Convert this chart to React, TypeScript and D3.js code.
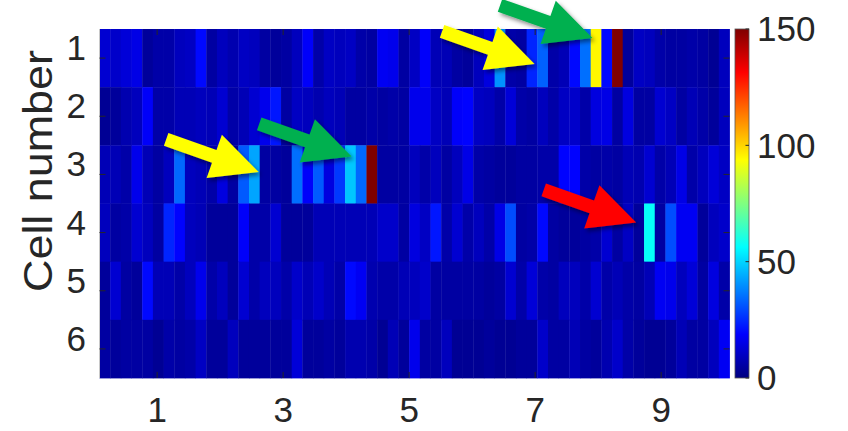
import React from "react";
import * as d3 from "d3";

// Spike counts per time bin for each recorded cell (59 bins, ~0.17 s each)
const cellIds = [1, 2, 3, 4, 5, 6];
const binStart = 0.085;
const binWidth = 10 / 59;

const cell1 = [12, 11, 13, 15, 4, 6, 6, 9, 10, 20, 5, 9, 7, 10, 9, 5, 4, 5, 9, 18, 6, 10, 9, 10, 6, 5, 17, 16, 5, 10,
  18, 8, 8, 5, 4, 9, 14, 40, 6, 5, 24, 33, 6, 8, 20, 35, 95, 20, 150, 4, 10, 9, 6, 5, 5, 6, 5, 3, 9];
const cell2 = [3, 4, 7, 9, 18, 6, 6, 8, 8, 9, 8, 12, 6, 8, 12, 16, 22, 5, 10, 9, 7, 9, 8, 5, 5, 6, 5, 6, 5, 16,
  16, 10, 8, 18, 19, 10, 9, 6, 13, 6, 5, 9, 6, 10, 11, 6, 14, 15, 5, 14, 5, 5, 12, 10, 5, 8, 6, 4, 9];
const cell3 = [8, 8, 6, 16, 8, 5, 9, 34, 9, 8, 6, 14, 5, 32, 43, 5, 5, 4, 35, 18, 32, 14, 27, 48, 34, 150, 5, 5, 5, 9,
  6, 9, 5, 9, 15, 6, 5, 4, 4, 5, 5, 6, 6, 19, 19, 6, 5, 6, 5, 8, 7, 12, 6, 8, 15, 6, 9, 13, 10];
const cell4 = [9, 5, 6, 12, 9, 5, 24, 19, 9, 8, 4, 4, 4, 18, 6, 6, 12, 4, 4, 4, 8, 8, 8, 8, 8, 8, 11, 11, 5, 14,
  10, 22, 6, 12, 6, 9, 6, 15, 30, 5, 6, 20, 5, 4, 4, 5, 6, 12, 5, 10, 4, 57, 5, 30, 17, 17, 4, 9, 11];
const cell5 = [4, 12, 5, 4, 20, 8, 8, 6, 9, 16, 6, 9, 4, 12, 6, 9, 9, 6, 11, 8, 11, 8, 6, 20, 17, 7, 6, 6, 8, 9,
  11, 5, 5, 5, 5, 5, 4, 5, 12, 6, 13, 6, 5, 9, 9, 6, 12, 6, 8, 6, 5, 8, 17, 16, 9, 13, 5, 14, 6];
const cell6 = [5, 4, 5, 5, 5, 3, 6, 5, 6, 10, 4, 4, 9, 4, 4, 4, 4, 4, 13, 4, 4, 5, 4, 7, 7, 6, 3, 8, 4, 16,
  5, 5, 9, 3, 3, 3, 4, 3, 3, 4, 4, 11, 5, 5, 8, 5, 4, 7, 11, 6, 4, 3, 3, 4, 8, 5, 5, 9, 17];
const cellRows = [cell1, cell2, cell3, cell4, cell5, cell6];

const xTicks = [1, 3, 5, 7, 9];
const colorTicks = [0, 50, 100, 150];
const colorMax = 150;

// Highlighted events: arrow tip in (time, cell) coordinates
const arrowTips = [
  { x: 6.99, cell: 1.1, color: "#FFFF00" },
  { x: 7.91, cell: 0.655, color: "#00B050" },
  { x: 2.61, cell: 2.958, color: "#FFFF00" },
  { x: 4.087, cell: 2.692, color: "#00B050" },
  { x: 8.603, cell: 3.826, color: "#FF0000" },
];

const W = 848;
const H = 431;
const plot = { left: 99.5, right: 729.5, top: 29, bottom: 378 };
const cbar = { left: 735, right: 749 };
const font = "'Liberation Sans', Arial, Helvetica, sans-serif";
const ink = "#262626";

function jet(t: number): string {
  const c = (v: number) => Math.round(255 * Math.max(0, Math.min(1, v)));
  const r = 1.5 - Math.abs(4 * t - 3);
  const g = 1.5 - Math.abs(4 * t - 2);
  const b = 1.5 - Math.abs(4 * t - 1);
  return d3.rgb(c(r), c(g), c(b)).formatHex();
}

function arrowPath(tx: number, ty: number, angleDeg: number): string {
  const L = 98, sw = 13.5, hw = 46, hl = 47;
  const local: [number, number][] = [
    [-L, -sw / 2], [-hl, -sw / 2], [-hl, -hw / 2], [0, 0],
    [-hl, hw / 2], [-hl, sw / 2], [-L, sw / 2],
  ];
  const a = (angleDeg * Math.PI) / 180;
  const ca = Math.cos(a), sa = Math.sin(a);
  const pts = local.map(([u, v]) => [tx + u * ca - v * sa, ty + u * sa + v * ca]);
  return "M" + pts.map((p) => p[0].toFixed(2) + "," + p[1].toFixed(2)).join("L") + "Z";
}

export default function App() {
  const x = d3.scaleLinear().domain([binStart, binStart + 59 * binWidth]).range([plot.left, plot.right]);
  const y = d3.scaleLinear().domain([0.5, 6.5]).range([plot.top, plot.bottom]);
  const cy = d3.scaleLinear().domain([0, colorMax]).range([plot.bottom, plot.top]);
  const color = (v: number) => jet(Math.min(1, v / colorMax));

  const gradStops = d3.range(0, 1.0001, 1 / 64);

  return (
    <svg width={W} height={H} style={{ position: "absolute", left: 0, top: 0, background: "#fff" }}>
      <defs>
        <linearGradient id="jetGrad" x1="0" y1="1" x2="0" y2="0">
          {gradStops.map((t, i) => (
            <stop key={i} offset={t} stopColor={jet(t)} />
          ))}
        </linearGradient>
        <filter id="arrowShadow" x="-20%" y="-20%" width="140%" height="140%">
          <feDropShadow dx="2.5" dy="3" stdDeviation="2.2" floodColor="#000" floodOpacity="0.45" />
        </filter>
      </defs>

      {/* heatmap cells */}
      {cellRows.map((row, r) =>
        row.map((v, i) => {
          const x0 = x(binStart + i * binWidth);
          const x1 = x(binStart + (i + 1) * binWidth);
          const y0 = y(cellIds[r] - 0.5);
          const y1 = y(cellIds[r] + 0.5);
          return (
            <rect key={r + "-" + i} x={x0} y={y0} width={x1 - x0 + 0.4} height={y1 - y0 + 0.4} fill={color(v)} />
          );
        })
      )}

      {/* axis frame */}
      <line x1={plot.left} x2={plot.left} y1={plot.top} y2={plot.bottom} stroke="#c8c8c8" strokeWidth={1} />

      {/* x ticks */}
      {xTicks.map((t) => (
        <g key={"xt" + t}>
          <line x1={x(t)} x2={x(t)} y1={plot.bottom} y2={plot.bottom - 6} stroke={ink} strokeWidth={1} />
          <line x1={x(t)} x2={x(t)} y1={plot.top} y2={plot.top + 6} stroke={ink} strokeWidth={1} />
          <text x={x(t)} y={422} textAnchor="middle" fontFamily={font} fontSize={35} fill={ink}>
            {t}
          </text>
        </g>
      ))}

      {/* y ticks */}
      {cellIds.map((c) => (
        <g key={"yt" + c}>
          <line x1={plot.left} x2={plot.left + 6} y1={y(c)} y2={y(c)} stroke={ink} strokeWidth={1} />
          <line x1={plot.right} x2={plot.right - 6} y1={y(c)} y2={y(c)} stroke={ink} strokeWidth={1} />
          <text x={86} y={y(c) + 2} textAnchor="end" fontFamily={font} fontSize={35} fill={ink}>
            {c}
          </text>
        </g>
      ))}

      <text
        transform={`translate(52,171) rotate(-90)`}
        textAnchor="middle"
        fontFamily={font}
        fontSize={40}
        fill={ink}
        textLength={242}
        lengthAdjust="spacingAndGlyphs"
      >
        Cell number
      </text>

      {/* colorbar */}
      <rect x={cbar.left} y={plot.top} width={cbar.right - cbar.left} height={plot.bottom - plot.top} fill="url(#jetGrad)" stroke="#555" strokeWidth={0.8} />
      {colorTicks.map((t) => (
        <g key={"ct" + t}>
          <line x1={cbar.right} x2={cbar.right - 3.5} y1={cy(t)} y2={cy(t)} stroke={ink} strokeWidth={1} />
          <text x={757} y={cy(t)} dy="0.35em" fontFamily={font} fontSize={35} fill={ink}>
            {t}
          </text>
        </g>
      ))}

      {/* event arrows */}
      {arrowTips.map((a, i) => (
        <path key={"ar" + i} d={arrowPath(x(a.x), y(a.cell), 19.4)} fill={a.color} filter="url(#arrowShadow)" />
      ))}
    </svg>
  );
}
